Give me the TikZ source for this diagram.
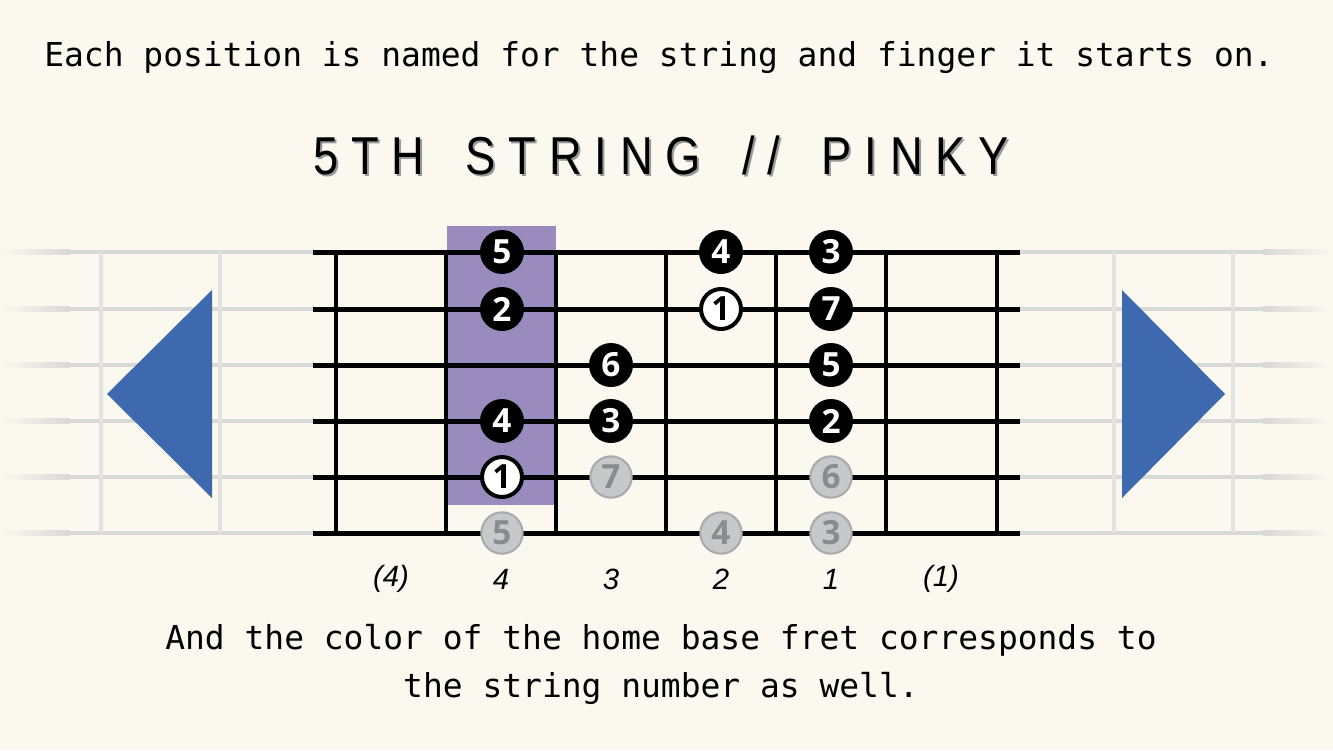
\documentclass[tikz,border=0pt]{standalone}
\usepackage{fontspec}
\setmainfont{Liberation Sans}
\setmonofont{DejaVu Sans Mono}
\newfontfamily\titlefont[LetterSpace=24, FakeStretch=0.85]{Liberation Sans}
\newfontfamily\dotfont{Open Sans}
\usetikzlibrary{positioning, shapes.geometric}

\definecolor{paper}{HTML}{FBF9EF}
\definecolor{homebase}{HTML}{9A8BBF}
\definecolor{arrowblue}{HTML}{3E69AE}
\definecolor{ghostfill}{HTML}{C6C8CA}
\definecolor{ghostline}{HTML}{A9ABAE}
\definecolor{ghosttext}{HTML}{898B8E}
\definecolor{fadestring}{HTML}{D8D8D6}
\definecolor{fadefret}{HTML}{E2E2DF}

\newcommand{\wordgap}{\hspace{12pt}}

\tikzset{
	fing/.style={circle, fill=black, text=white, minimum size=33pt, inner sep=0pt,
		font=\dotfont\bfseries\fontsize{25}{25}\selectfont},
	root/.style={fing, draw=black, line width=3pt, fill=white, text=black, minimum size=30pt},
	ghost/.style={fing, draw=ghostline, line width=1.6pt, fill=ghostfill, text=ghosttext, minimum size=31pt},
	fretnum/.style={font=\rmfamily\itshape\fontsize{22}{22}\selectfont},
	monotext/.style={font=\ttfamily\fontsize{24.7}{36}\selectfont, align=center},
	headline/.style={font=\titlefont\fontsize{40}{40}\selectfont},
	string/.style={line width=3.75pt},
	fret/.style={line width=3.4pt},
	fadeline/.style={line width=3.5pt}
}

\begin{document}
\begin{tikzpicture}[x=0.75pt, y=-0.75pt]

		\useasboundingbox (0,0) rectangle (1333,750);
		\fill[paper] (0,0) rectangle (1333,750);

		% faded neighbours left and right
		\foreach \y in {252,309,365,421,477,533} {
			\draw[fadeline, fadestring] (70,\y) -- (313,\y);
			\shade[left color=paper, right color=fadestring] (0,\y-2.3) rectangle (70,\y+2.3);
			\draw[fadeline, fadestring] (1020,\y) -- (1263,\y);
			\shade[left color=fadestring, right color=paper] (1263,\y-2.3) rectangle (1333,\y+2.3);
		}
		\draw[fadeline, fadefret] (101,252) -- (101,533);
		\draw[fadeline, fadefret] (220,252) -- (220,533);
		\draw[fadeline, fadefret] (1114,252) -- (1114,533);
		\draw[fadeline, fadefret] (1233,252) -- (1233,533);

		% arrows
		\fill[arrowblue] (107,394) -- (212,290) -- (212,498) -- cycle;
		\fill[arrowblue] (1225,394) -- (1122,290) -- (1122,498) -- cycle;

		% home base fret
		\fill[homebase] (447,226) rectangle (556,505);

		% strings and frets
		\foreach \y in {252,309,365,421,477,533}
			\draw[string] (313,\y) -- (1020,\y);
		\foreach \x in {336,446,556,666,776,886,997}
			\draw[fret] (\x,252) -- (\x,533);

		% fingers
		\node[fing] (s1a) at (502,252) {5};
		\node[fing] (s2a) at (502,309) {2};
		\node[fing] (s4a) at (502,421) {4};
		\node[root] (s5a) at (502,477) {1};
		\node[ghost] (s6a) at (502,533) {5};

		\node[fing] (s3b) at (611,365) {6};
		\node[fing] (s4b) at (611,421) {3};
		\node[ghost] (s5b) at (611,477) {7};

		\node[fing] (s1c) at (721,252) {4};
		\node[root] (s2c) at (721,309) {1};
		\node[ghost] (s6c) at (721,533) {4};

		\node[fing] (s1d) at (831,252) {3};
		\node[fing] (s2d) at (831,309) {7};
		\node[fing] (s3d) at (831,365) {5};
		\node[fing] (s4d) at (831,421) {2};
		\node[ghost] (s5d) at (831,477) {6};
		\node[ghost] (s6d) at (831,533) {3};

		% finger numbers under the frets
		\node[fretnum] (lab0) at (391,579) {(4)};
		\node[fretnum] (lab1) at (501,579) {4};
		\node[fretnum] (lab2) at (611,579) {3};
		\node[fretnum] (lab3) at (721,579) {2};
		\node[fretnum] (lab4) at (831,579) {1};
		\node[fretnum] (lab5) at (941,579) {(1)};

		% texts
		\node[monotext] (intro) at (659,58) {Each position is named for the string and finger it starts on.};
		\node[headline, text=black!40] (shadow) at (663,157) {5TH \wordgap STRING \wordgap // \wordgap PINKY};
		\node[headline] (title) at (661,155) {5TH \wordgap STRING \wordgap // \wordgap PINKY};
		\node[monotext] (outro) at (661,664) {And the color of the home base fret corresponds to\\the string number as well.};

	\end{tikzpicture}
\end{document}
